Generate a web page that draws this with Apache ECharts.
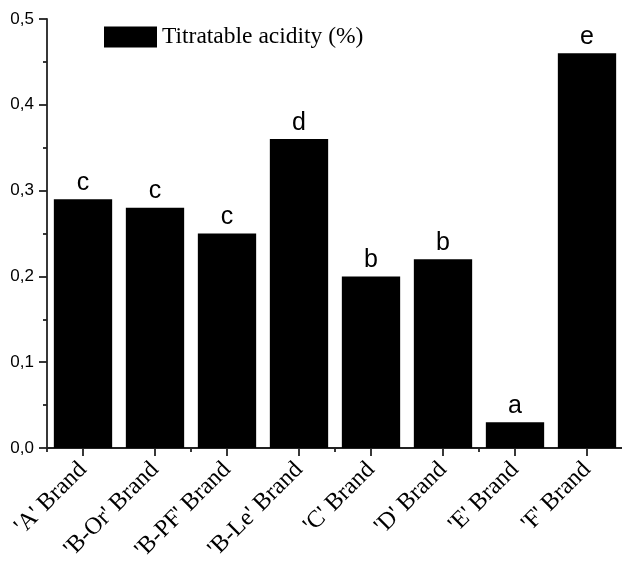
<!DOCTYPE html>
<html>
<head>
<meta charset="utf-8">
<script src="https://cdn.jsdelivr.net/npm/echarts@6/dist/echarts.min.js"></script>
<style>
html,body{margin:0;padding:0;background:#ffffff;}
#chart{width:622px;height:561px;}
</style>
</head>
<body>
<div id="chart"></div>
<script>
const categories = ["'A' Brand", "'B-Or' Brand", "'B-PF' Brand", "'B-Le' Brand", "'C' Brand", "'D' Brand", "'E' Brand", "'F' Brand"];
const acidity = [0.29, 0.28, 0.25, 0.36, 0.20, 0.22, 0.03, 0.46];
const letters = ['c', 'c', 'c', 'd', 'b', 'b', 'a', 'e'];
const seriesName = 'Titratable acidity (%)';
const yTicks = [0, 0.1, 0.2, 0.3, 0.4, 0.5];

const chart = echarts.init(document.getElementById('chart'), null, {renderer: 'canvas'});
const axisColor = '#222';
chart.setOption({
  backgroundColor: '#ffffff',
  animation: false,
  grid: {left: 47, right: -1, top: 19, bottom: 113, containLabel: false, outerBoundsMode: 'none'},
  legend: {
    data: [seriesName],
    left: 104, top: 25, padding: 0,
    itemWidth: 53, itemHeight: 21, itemGap: 5,
    textStyle: {fontFamily: 'Liberation Serif', fontSize: 23.5, color: '#000'},
    icon: 'rect'
  },
  xAxis: [{
    type: 'category',
    data: categories,
    position: 'bottom',
    axisLine: {show: true, lineStyle: {color: axisColor, width: 1.8}},
    axisTick: {show: true, alignWithLabel: true, length: 8, lineStyle: {color: axisColor, width: 1.8}},
    axisLabel: {rotate: 45, margin: 18, fontFamily: 'Liberation Serif', fontSize: 24, color: '#000', interval: 0}
  }, {
    type: 'category',
    data: categories,
    position: 'bottom',
    axisLine: {show: false},
    axisTick: {show: true, length: 4, lineStyle: {color: axisColor, width: 1.8}},
    axisLabel: {show: false}
  }],
  yAxis: {
    type: 'value',
    min: yTicks[0], max: yTicks[yTicks.length - 1], interval: 0.1,
    axisLine: {show: true, lineStyle: {color: axisColor, width: 1.8}},
    axisTick: {show: true, inside: false, length: 8, lineStyle: {color: axisColor, width: 1.8}},
    minorTick: {show: true, splitNumber: 2, length: 4, lineStyle: {color: axisColor, width: 1.8}},
    splitLine: {show: false},
    axisLabel: {
      margin: 13, fontFamily: 'Liberation Sans', fontSize: 17, color: '#000',
      formatter: v => v.toFixed(1).replace('.', ',')
    }
  },
  series: [{
    name: seriesName,
    type: 'bar',
    xAxisIndex: 0,
    data: acidity,
    barCategoryGap: '19%',
    itemStyle: {color: '#000'},
    label: {
      show: true, position: 'top', distance: 4,
      fontFamily: 'Liberation Sans', fontSize: 25, color: '#000',
      formatter: p => letters[p.dataIndex]
    }
  }]
});
</script>
</body>
</html>
